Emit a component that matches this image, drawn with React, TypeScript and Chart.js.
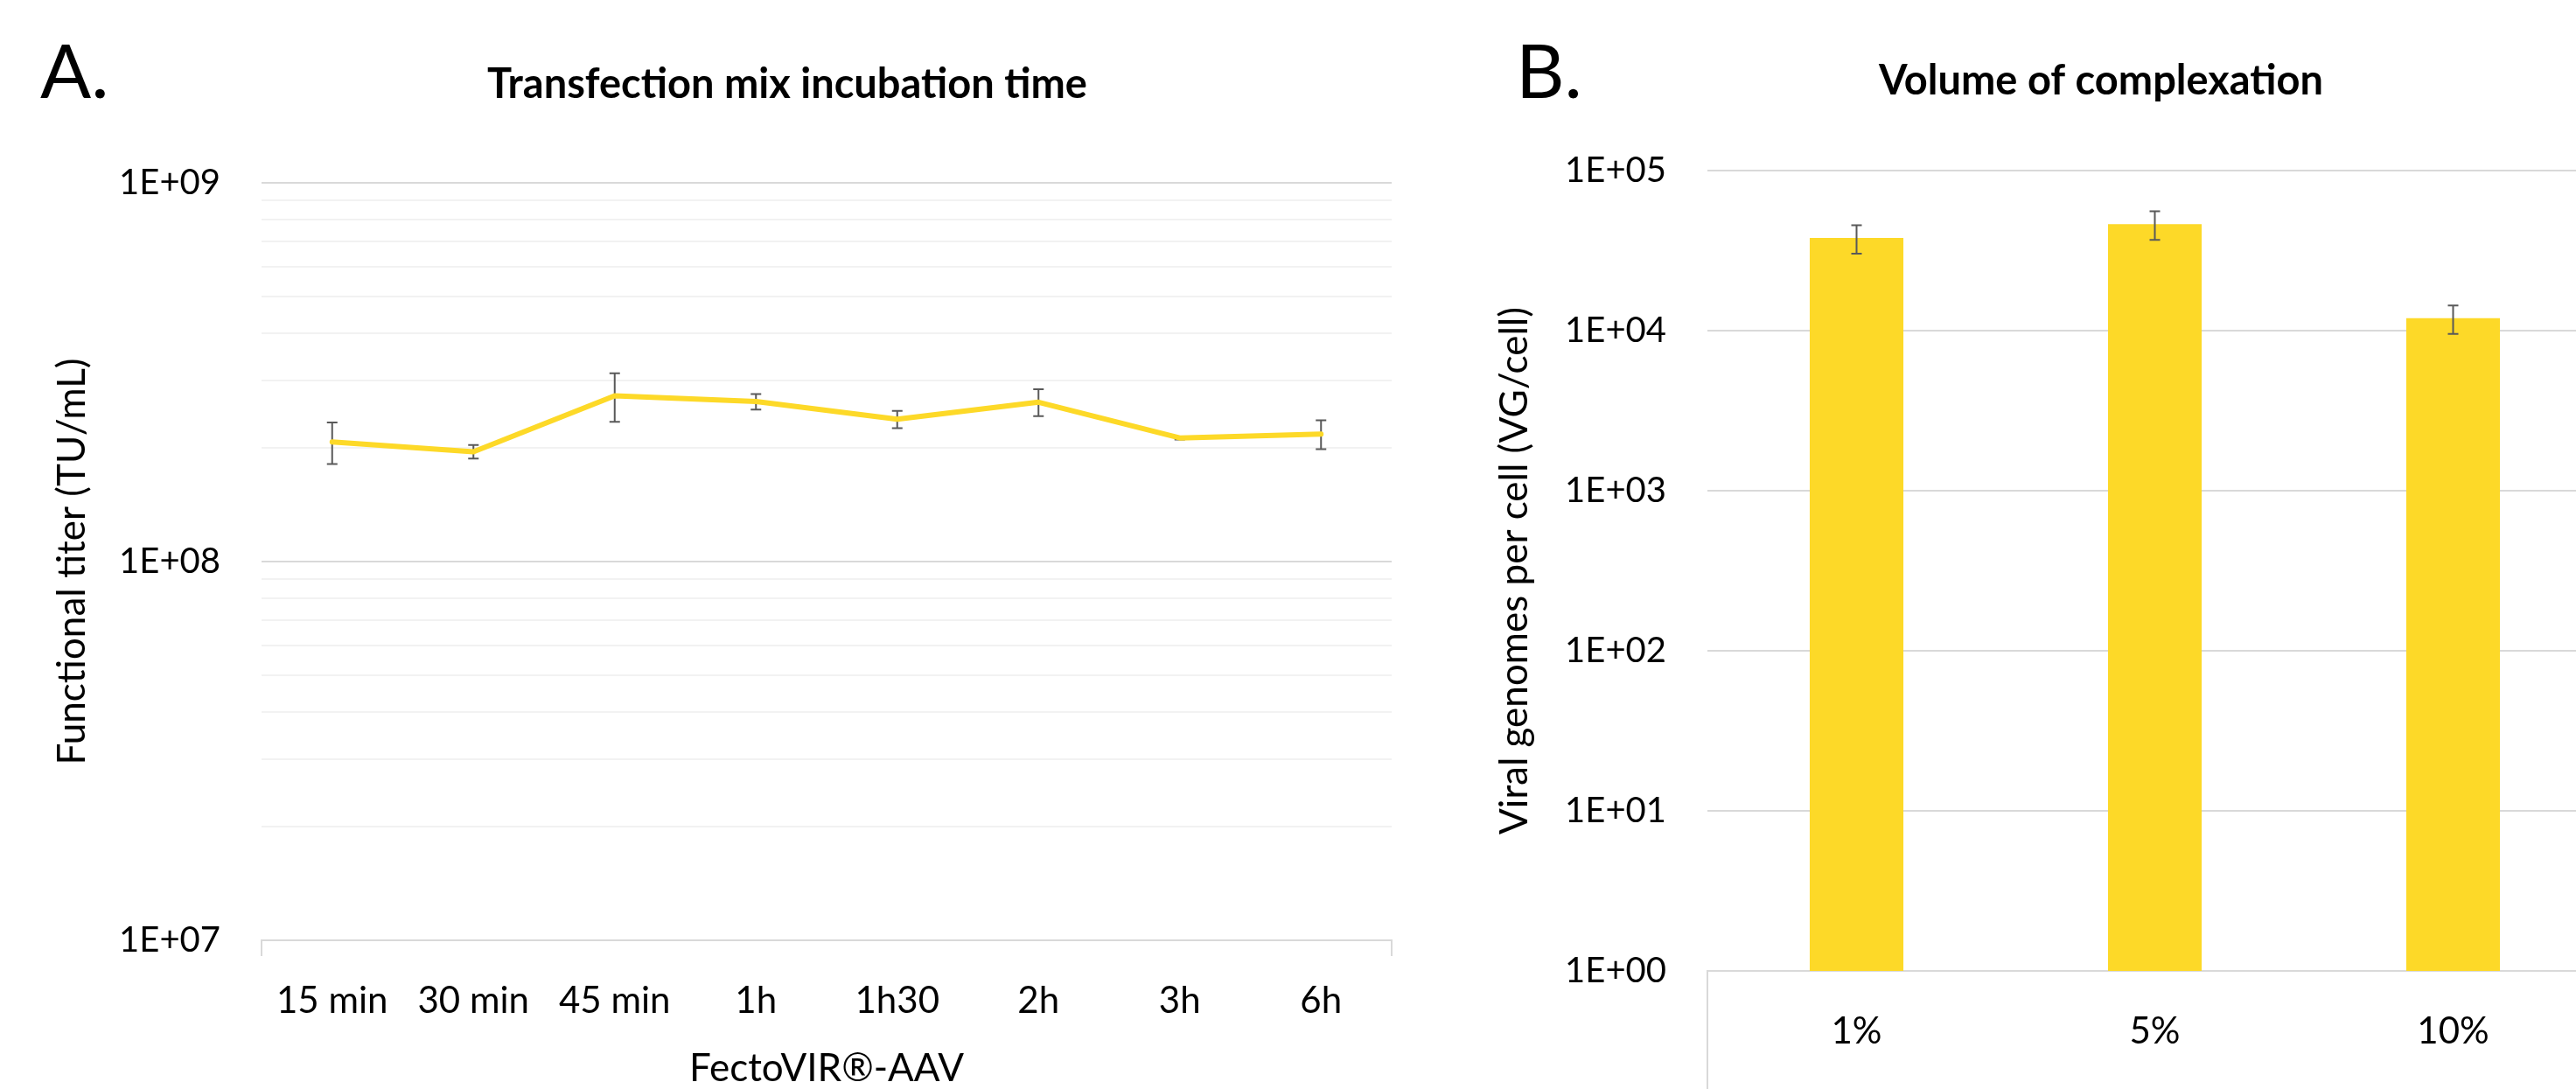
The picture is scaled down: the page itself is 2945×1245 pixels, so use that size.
import React, { useEffect, useRef } from 'react';
import { Chart, registerables } from 'chart.js';

Chart.register(...registerables);

// ---------- Panel A data ----------
const timeCategories = ['15 min', '30 min', '45 min', '1h', '1h30', '2h', '3h', '6h'];
const titerValues = [2.07e8, 1.95e8, 2.74e8, 2.645e8, 2.375e8, 2.635e8, 2.12e8, 2.17e8];
const titerErrors = [0.26e8, 0.08e8, 0.4e8, 0.125e8, 0.125e8, 0.215e8, 0.02e8, 0.19e8];
const titerTickValues = [1e7, 1e8, 1e9];
const titerTickLabels = ['1E+07', '1E+08', '1E+09'];
const minorMultipliers = [2, 3, 4, 5, 6, 7, 8, 9];

// ---------- Panel B data ----------
const volumeCategories = ['1%', '5%', '10%'];
const vgValues = [37900, 46300, 11950];
const vgErrors = [7600, 9450, 2420];
const vgTickValues = [1, 10, 100, 1000, 10000, 100000];
const vgTickLabels = ['1E+00', '1E+01', '1E+02', '1E+03', '1E+04', '1E+05'];

const YELLOW = '#FDD928';
const FONT = 'Lato';

const titerGridValues: number[] = [];
titerTickValues.forEach((v, i) => {
  titerGridValues.push(v);
  if (i < titerTickValues.length - 1) minorMultipliers.forEach((m) => titerGridValues.push(m * v));
});
titerGridValues.sort((a, b) => a - b);

const errorBarPlugin = {
  id: 'errorBars',
  draw(chart: any, opts: any) {
    const ctx = chart.ctx;
    const yScale = chart.scales.y;
    chart.data.datasets.forEach((ds: any, di: number) => {
      const errs = ds.errors;
      if (!errs) return;
      const meta = chart.getDatasetMeta(di);
      meta.data.forEach((el: any, i: number) => {
        const v = ds.data[i];
        const e = errs[i];
        const x = el.x;
        const yTop = yScale.getPixelForValue(v + e);
        const yBot = yScale.getPixelForValue(v - e);
        ctx.save();
        ctx.strokeStyle = opts.color;
        ctx.lineWidth = opts.width;
        ctx.beginPath();
        ctx.moveTo(x, yTop);
        ctx.lineTo(x, yBot);
        ctx.moveTo(x - opts.cap, yTop);
        ctx.lineTo(x + opts.cap, yTop);
        ctx.moveTo(x - opts.cap, yBot);
        ctx.lineTo(x + opts.cap, yBot);
        ctx.stroke();
        ctx.restore();
      });
    });
  },
  beforeDatasetsDraw(chart: any, _a: any, opts: any) {
    if (!opts.above) this.draw(chart, opts);
  },
  afterDatasetsDraw(chart: any, _a: any, opts: any) {
    if (opts.above) this.draw(chart, opts);
  },
};

const panelTextPlugin = {
  id: 'panelText',
  afterDraw(chart: any, _a: any, opts: any) {
    const ctx = chart.ctx;
    ctx.save();
    ctx.fillStyle = '#000';
    ctx.textBaseline = 'alphabetic';
    ctx.font = `${opts.letterSize}px ${FONT}`;
    ctx.textAlign = 'left';
    ctx.fillText(opts.letter, opts.letterX, opts.letterBaseline);
    ctx.font = `bold ${opts.titleSize}px ${FONT}`;
    ctx.textAlign = 'center';
    ctx.fillText(opts.title, opts.titleX, opts.titleBaseline);
    ctx.restore();
  },
};

const axisEndsPlugin = {
  id: 'axisEnds',
  afterDraw(chart: any, _a: any, opts: any) {
    const ctx = chart.ctx;
    const xs = chart.scales.x;
    const b = chart.chartArea.bottom;
    ctx.save();
    ctx.strokeStyle = opts.color;
    ctx.lineWidth = 2;
    ctx.beginPath();
    [xs.left, xs.right].forEach((x: number) => {
      ctx.moveTo(x, b);
      ctx.lineTo(x, b + opts.length);
    });
    ctx.stroke();
    ctx.restore();
  },
};

const tickFont = { family: FONT, size: 40 };
const catFont = { family: FONT, size: 42 };
const axisTitleFont = { family: FONT, size: 44, lineHeight: 1 };

export default function App() {
  const leftRef = useRef<HTMLCanvasElement>(null);
  const rightRef = useRef<HTMLCanvasElement>(null);

  useEffect(() => {
    const left = new Chart(leftRef.current as HTMLCanvasElement, {
      type: 'line',
      data: {
        labels: timeCategories,
        datasets: [
          {
            data: titerValues,
            errors: titerErrors,
            borderColor: YELLOW,
            borderWidth: 6,
            pointRadius: 0,
            tension: 0,
            borderJoinStyle: 'round',
            borderCapStyle: 'round',
          } as any,
        ],
      },
      plugins: [errorBarPlugin, panelTextPlugin, axisEndsPlugin],
      options: {
        responsive: false,
        animation: false,
        layout: { padding: { left: 0, right: 59, top: 209, bottom: 0 } },
        plugins: {
          legend: { display: false },
          tooltip: { enabled: false },
          title: { display: false },
          errorBars: { color: '#595959', width: 2, cap: 6, above: false },
          panelText: {
            letter: 'A.', letterX: 46, letterBaseline: 112, letterSize: 86,
            title: 'Transfection mix incubation time', titleX: 900, titleBaseline: 112, titleSize: 47,
          },
          axisEnds: { color: '#d9d9d9', length: 18 },
        } as any,
        scales: {
          x: {
            type: 'category',
            offset: true,
            afterFit: (s: any) => { s.height = 170; },
            grid: { display: false },
            border: { display: true, color: '#d9d9d9', width: 2 },
            ticks: { autoSkip: false, maxRotation: 0, padding: 36, font: catFont, color: '#000' },
            title: {
              display: true, text: 'FectoVIR®-AAV', font: axisTitleFont, color: '#000',
              padding: { top: 0, bottom: 1 },
            },
          },
          y: {
            type: 'logarithmic',
            min: 1e7,
            max: 1e9,
            afterBuildTicks: (s: any) => { s.ticks = titerGridValues.map((v) => ({ value: v })); },
            afterFit: (s: any) => { s.width = 299; },
            ticks: {
              autoSkip: false, padding: 47, font: tickFont, color: '#000',
              callback: (v: any) => {
                const i = titerTickValues.indexOf(Number(v));
                return i >= 0 ? titerTickLabels[i] : '';
              },
            },
            grid: {
              drawTicks: false,
              lineWidth: 2,
              color: (c: any) => (titerTickValues.includes(c.tick?.value) ? '#d9d9d9' : '#f2f2f2'),
            },
            border: { display: false },
            title: {
              display: true, text: 'Functional titer (TU/mL)', font: axisTitleFont, color: '#000',
              padding: { top: 61, bottom: 0 },
            },
          },
        },
      } as any,
    });

    const right = new Chart(rightRef.current as HTMLCanvasElement, {
      type: 'bar',
      data: {
        labels: volumeCategories,
        datasets: [
          {
            data: vgValues,
            errors: vgErrors,
            backgroundColor: YELLOW,
            barPercentage: 1,
            categoryPercentage: 0.314,
          } as any,
        ],
      },
      plugins: [errorBarPlugin, panelTextPlugin, axisEndsPlugin],
      options: {
        responsive: false,
        animation: false,
        layout: { padding: { left: 0, right: 75, top: 195, bottom: 0 } },
        plugins: {
          legend: { display: false },
          tooltip: { enabled: false },
          title: { display: false },
          errorBars: { color: '#595959', width: 2, cap: 6, above: true },
          panelText: {
            letter: 'B.', letterX: 83, letterBaseline: 112, letterSize: 86,
            title: 'Volume of complexation', titleX: 752, titleBaseline: 108, titleSize: 47,
          },
          axisEnds: { color: '#d9d9d9', length: 300 },
        } as any,
        scales: {
          x: {
            type: 'category',
            offset: true,
            afterFit: (s: any) => { s.height = 194; },
            grid: { display: false },
            border: { display: true, color: '#d9d9d9', width: 2 },
            ticks: { autoSkip: false, maxRotation: 0, padding: 36, font: catFont, color: '#000' },
            title: {
              display: true, text: 'FectoVIR®-AAV', font: axisTitleFont, color: '#000',
              padding: { top: 0, bottom: 1 },
            },
          },
          y: {
            type: 'logarithmic',
            min: 1,
            max: 1e5,
            afterBuildTicks: (s: any) => { s.ticks = vgTickValues.map((v) => ({ value: v })); },
            afterFit: (s: any) => { s.width = 302; },
            ticks: {
              autoSkip: false, padding: 47, font: tickFont, color: '#000',
              callback: (v: any) => {
                const i = vgTickValues.indexOf(Number(v));
                return i >= 0 ? vgTickLabels[i] : '';
              },
            },
            grid: { drawTicks: false, lineWidth: 2, color: '#d9d9d9' },
            border: { display: false },
            title: {
              display: true, text: 'Viral genomes per cell (VG/cell)', font: axisTitleFont, color: '#000',
              padding: { top: 60, bottom: 0 },
            },
          },
        },
      } as any,
    });

    return () => {
      left.destroy();
      right.destroy();
    };
  }, []);

  return (
    <div
      style={{
        position: 'fixed', left: 0, top: 0, width: 2945, height: 1245,
        overflow: 'hidden', background: '#ffffff',
      }}
    >
      <canvas ref={leftRef} width={1650} height={1245} style={{ position: 'absolute', left: 0, top: 0 }} />
      <canvas ref={rightRef} width={1400} height={1304} style={{ position: 'absolute', left: 1650, top: 0 }} />
    </div>
  );
}
